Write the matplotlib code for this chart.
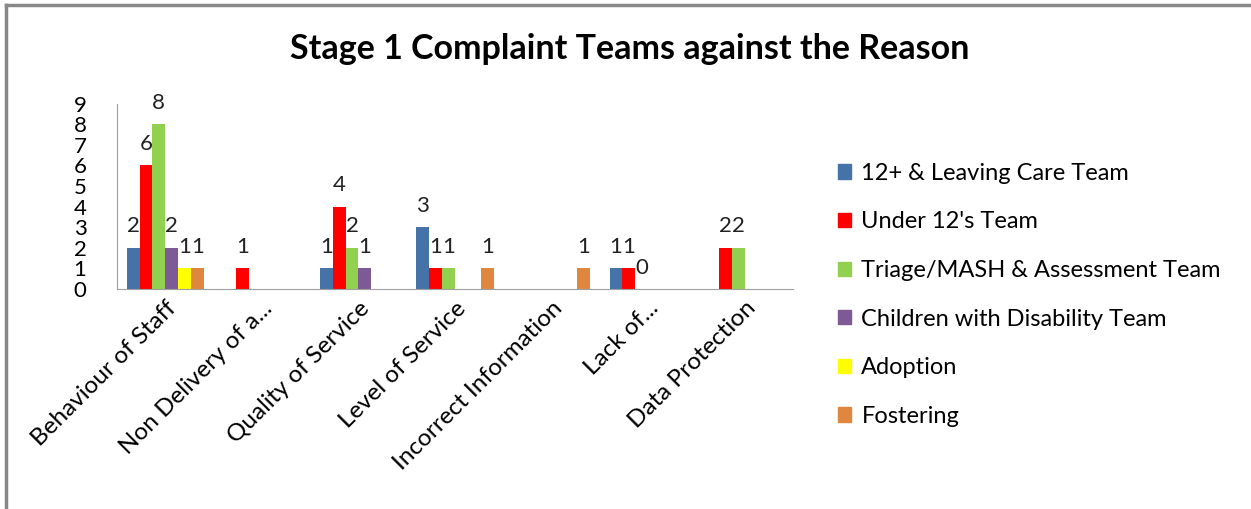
import numpy as np
import matplotlib
matplotlib.use('Agg')
import matplotlib.pyplot as plt
from matplotlib.lines import Line2D

plt.rcParams['font.family'] = ['Lato', 'DejaVu Sans']

reasons = ['Behaviour of Staff', 'Non Delivery of a...', 'Quality of Service',
           'Level of Service', 'Incorrect Information', 'Lack of...', 'Data Protection']
teams = ['12+ & Leaving Care Team', "Under 12's Team", 'Triage/MASH & Assessment Team',
         'Children with Disability Team', 'Adoption', 'Fostering']
colors = ['#4572A7', '#FF0000', '#92D050', '#7D5A96', '#FFFF00', '#E0873F']

nan = np.nan
leaving_care = [2, nan, 1, 3, nan, 1, nan]
under_12 = [6, 1, 4, 1, nan, 1, 2]
triage_mash = [8, nan, 2, 1, nan, 0, 2]
disability = [2, nan, 1, nan, nan, nan, nan]
adoption = [1, nan, nan, nan, nan, nan, nan]
fostering = [1, nan, nan, 1, 1, nan, nan]
series = [leaving_care, under_12, triage_mash, disability, adoption, fostering]

fig = plt.figure(figsize=(12.51, 5.09), dpi=100)
ax = fig.add_axes([117 / 1251, 1 - 289 / 509, 676 / 1251, (289 - 103.6) / 509])

x = np.arange(len(reasons))
w = 0.8 / len(teams)
for i, (vals, col) in enumerate(zip(series, colors)):
    vals = np.array(vals, dtype=float)
    pos = x - 0.4 + w * (i + 0.5)
    ok = ~np.isnan(vals)
    ax.bar(pos[ok], vals[ok], width=w, color=col, label=teams[i])
    for p, v in zip(pos[ok], vals[ok]):
        ax.text(p, v + 0.55, '%d' % v, ha='center', va='bottom', fontsize=16, color='#222222')

ax.set_xlim(-0.5, len(reasons) - 0.5)
ax.set_ylim(0, 9)
ax.set_yticks(range(10))
ax.tick_params(axis='y', length=0, labelsize=16, pad=22)
ax.tick_params(axis='x', length=0, labelsize=17.5, pad=6)
ax.set_xticks(x)
ax.set_xticklabels(reasons, rotation=45, ha='right', rotation_mode='anchor')
for s in ['top', 'right']:
    ax.spines[s].set_visible(False)
for s in ['left', 'bottom']:
    ax.spines[s].set_color('#A0A0A0')

fig.text(0.503, 1 - 49 / 509, 'Stage 1 Complaint Teams against the Reason',
         ha='center', va='center', fontsize=24.5, fontweight='bold')

handles = [plt.Rectangle((0, 0), 1, 1, color=c) for c in colors]
fig.legend(handles, teams, loc='upper left', bbox_to_anchor=(826 / 1251, 1 - 151 / 509),
           frameon=False, fontsize=17, handlelength=0.55, handleheight=0.55,
           handletextpad=0.45, labelspacing=1.17, borderpad=0)

# frame edges on top and left
fig.add_artist(Line2D([6 / 1251, 1], [1 - 5 / 509, 1 - 5 / 509], color='#888888', lw=2.5,
                      transform=fig.transFigure))
fig.add_artist(Line2D([6 / 1251, 6 / 1251], [0, 1 - 5 / 509], color='#888888', lw=2.5,
                      transform=fig.transFigure))

fig.savefig('out.png', dpi=100)
